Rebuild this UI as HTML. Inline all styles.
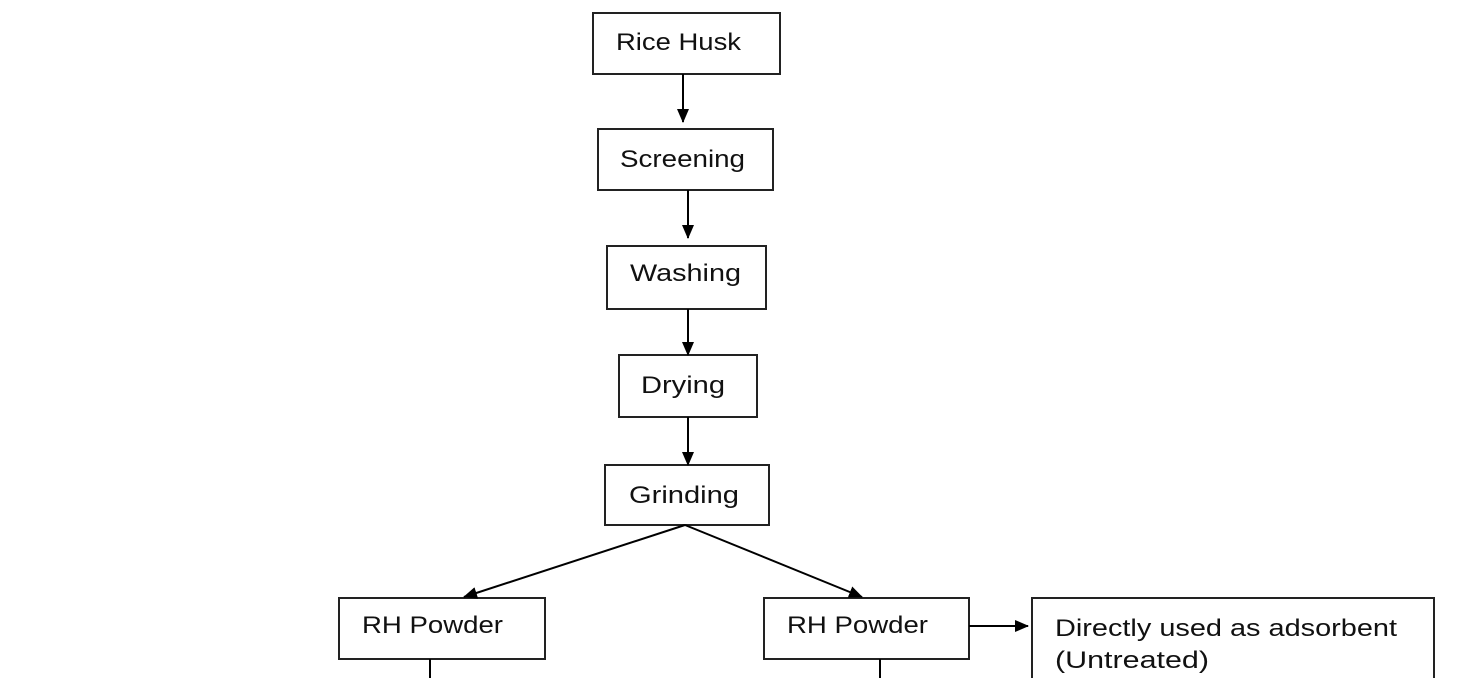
<!DOCTYPE html>
<html><head><meta charset="utf-8"><style>
html,body{margin:0;padding:0;background:#fff;}
svg{display:block;}
text{font-family:"Liberation Sans",sans-serif;font-size:24px;fill:#111;}
</style></head><body>
<svg width="1474" height="678" viewBox="0 0 1474 678" xmlns="http://www.w3.org/2000/svg">
<defs><marker id="a" markerWidth="10" markerHeight="10" refX="9" refY="5" orient="auto" markerUnits="userSpaceOnUse" viewBox="0 0 10 10"><path d="M0,0 L10,5 L0,10 z" fill="#000"/></marker>
<marker id="b" markerWidth="14" markerHeight="14" refX="13" refY="7" orient="auto" markerUnits="userSpaceOnUse" viewBox="0 0 14 14"><path d="M0,1 L14,7 L0,13 z" fill="#000"/></marker></defs>
<g fill="#fff" stroke="#222" stroke-width="2">
<rect x="593" y="13" width="187" height="61"/>
<rect x="598" y="129" width="175" height="61"/>
<rect x="607" y="246" width="159" height="63"/>
<rect x="619" y="355" width="138" height="62"/>
<rect x="605" y="465" width="164" height="60"/>
<rect x="339" y="598" width="206" height="61"/>
<rect x="764" y="598" width="205" height="61"/>
<rect x="1032" y="598" width="402" height="90"/>
</g>
<g stroke="#000" stroke-width="2" fill="none">
<line x1="683" y1="74" x2="683" y2="122" marker-end="url(#b)"/>
<line x1="688" y1="190" x2="688" y2="238" marker-end="url(#b)"/>
<line x1="688" y1="309" x2="688" y2="355" marker-end="url(#b)"/>
<line x1="688" y1="417" x2="688" y2="465" marker-end="url(#b)"/>
<line x1="685" y1="525" x2="464" y2="597" marker-end="url(#b)"/>
<line x1="685" y1="525" x2="862" y2="597" marker-end="url(#b)"/>
<line x1="969" y1="626" x2="1028" y2="626" marker-end="url(#b)"/>
<line x1="430" y1="659" x2="430" y2="678"/>
<line x1="880" y1="659" x2="880" y2="678"/>
</g>
<text x="616" y="50" textLength="125" lengthAdjust="spacingAndGlyphs">Rice Husk</text>
<text x="620" y="167" textLength="125" lengthAdjust="spacingAndGlyphs">Screening</text>
<text x="630" y="281" textLength="111" lengthAdjust="spacingAndGlyphs">Washing</text>
<text x="641" y="393" textLength="84" lengthAdjust="spacingAndGlyphs">Drying</text>
<text x="629" y="503" textLength="110" lengthAdjust="spacingAndGlyphs">Grinding</text>
<text x="362" y="633" textLength="141" lengthAdjust="spacingAndGlyphs">RH Powder</text>
<text x="787" y="633" textLength="141" lengthAdjust="spacingAndGlyphs">RH Powder</text>
<text x="1055" y="636" textLength="342" lengthAdjust="spacingAndGlyphs">Directly used as adsorbent</text>
<text x="1055" y="668" textLength="154" lengthAdjust="spacingAndGlyphs">(Untreated)</text>
</svg>
</body></html>
